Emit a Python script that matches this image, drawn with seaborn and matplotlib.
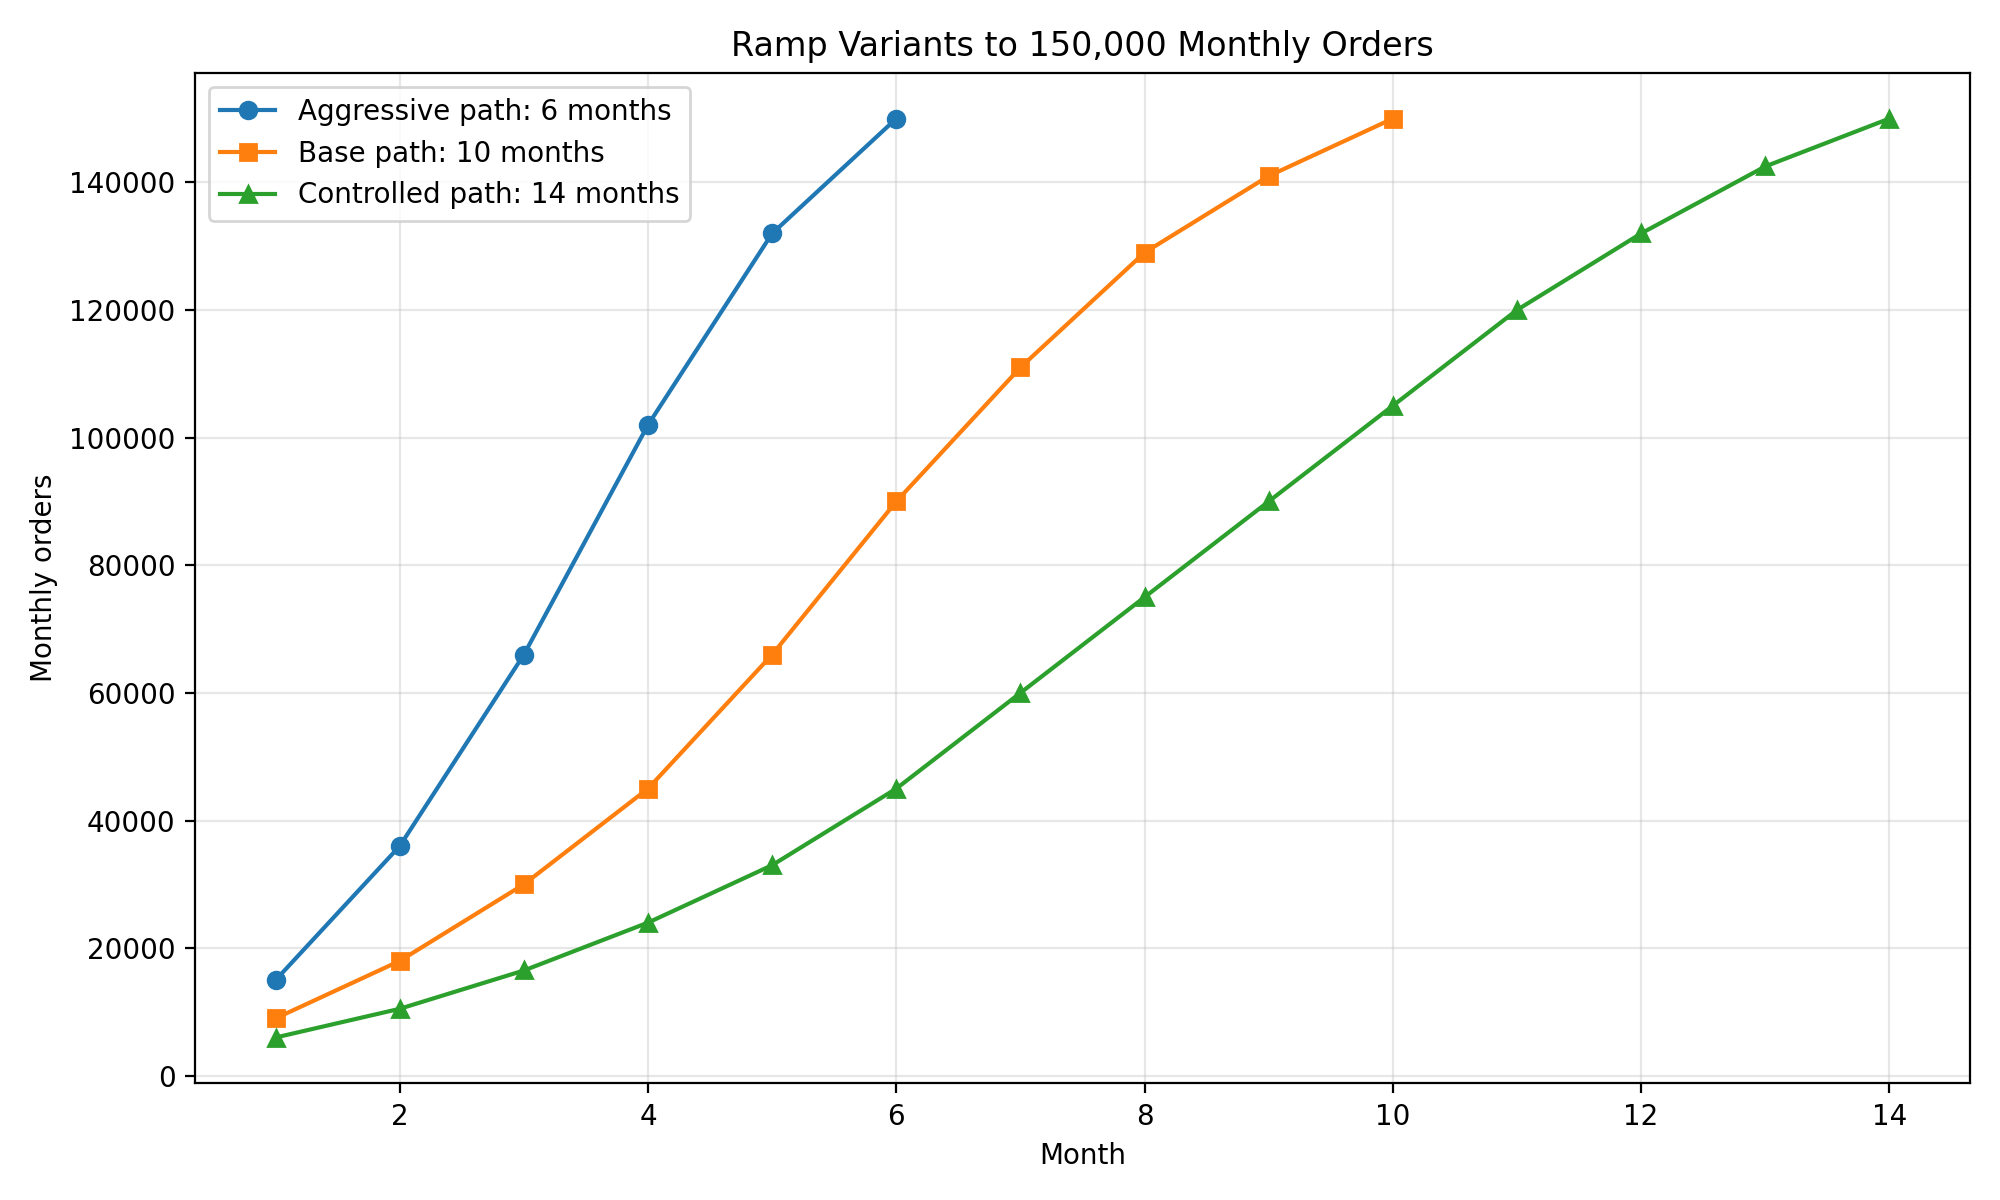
import pandas as pd
import matplotlib
matplotlib.use("Agg")
import matplotlib.pyplot as plt
import seaborn as sns

# datos
meses_agresivo = [1, 2, 3, 4, 5, 6]
pedidos_agresivo = [15000, 36000, 66000, 102000, 132000, 150000]

meses_base = [1, 2, 3, 4, 5, 6, 7, 8, 9, 10]
pedidos_base = [9000, 18000, 30000, 45000, 66000, 90000, 111000, 129000, 141000, 150000]

meses_controlado = list(range(1, 15))
pedidos_controlado = [6000, 10500, 16500, 24000, 33000, 45000, 60000, 75000,
                      90000, 105000, 120000, 132000, 142500, 150000]

etiquetas = ["Aggressive path: 6 months", "Base path: 10 months", "Controlled path: 14 months"]
marcadores = ["o", "s", "^"]
colores = ["#1f77b4", "#ff7f0e", "#2ca02c"]

series = [
    (meses_agresivo, pedidos_agresivo),
    (meses_base, pedidos_base),
    (meses_controlado, pedidos_controlado),
]

fig, ax = plt.subplots(figsize=(10, 6), dpi=200)

for (x, y), etiqueta, m, c in zip(series, etiquetas, marcadores, colores):
    df = pd.DataFrame({"Month": x, "Orders": y})
    sns.lineplot(data=df, x="Month", y="Orders", marker=m, color=c, label=etiqueta,
                 ax=ax, markersize=6, markeredgewidth=1, markeredgecolor=c, linewidth=1.5)

ax.set_title("Ramp Variants to 150,000 Monthly Orders")
ax.set_xlabel("Month")
ax.set_ylabel("Monthly orders")
ax.grid(True, alpha=0.3)
ax.legend(loc="upper left")

plt.tight_layout()
plt.savefig("out.png")
